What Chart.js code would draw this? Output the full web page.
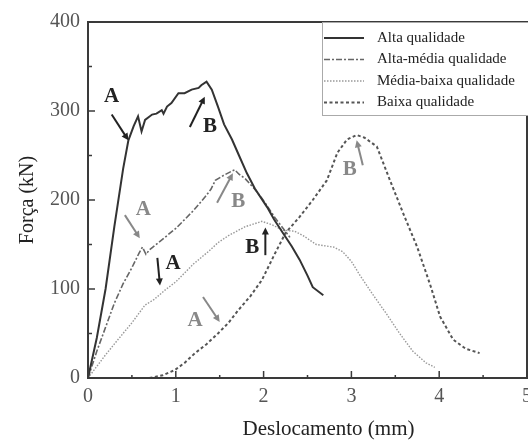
<!DOCTYPE html>
<html>
<head>
<meta charset="utf-8">
<script src="https://cdn.jsdelivr.net/npm/chart.js@4.4.0/dist/chart.umd.min.js"></script>
<style>
  html, body { margin: 0; padding: 0; background: #fff; }
</style>
</head>
<body>
<canvas id="chart" width="528" height="441"></canvas>
<script>
// series names, as in the legend
const seriesNames = ['Alta qualidade', 'Alta-média qualidade', 'Média-baixa qualidade', 'Baixa qualidade'];

// deslocamento (mm) / força (kN)
const altaX = [0, 0.1, 0.2, 0.3, 0.4, 0.46, 0.52, 0.57, 0.61, 0.65, 0.73, 0.78, 0.84, 0.86, 0.9, 0.95, 1.03, 1.1, 1.18, 1.26, 1.29, 1.35, 1.41, 1.48, 1.55, 1.64, 1.72, 1.81, 1.9, 2.04, 2.12, 2.22, 2.32, 2.41, 2.5, 2.56, 2.68];
const altaY = [0, 45, 100, 170, 235, 267, 283, 294, 277, 290, 296, 297, 301, 297, 305, 309, 320, 320, 324, 326, 329, 333, 324, 305, 285, 268, 250, 230, 213, 192, 178, 163, 148, 133, 115, 102, 93];

const altaMediaX = [0, 0.1, 0.2, 0.3, 0.4, 0.5, 0.58, 0.62, 0.66, 0.7, 0.8, 0.9, 1.0, 1.1, 1.2, 1.33, 1.4, 1.45, 1.55, 1.67, 1.72, 1.79, 1.9, 1.98, 2.05, 2.13, 2.2, 2.3];
const altaMediaY = [0, 30, 57, 84, 106, 124, 140, 147, 139, 144, 152, 160, 168, 178, 188, 203, 212, 222, 228, 234, 229, 224, 212, 202, 192, 180, 171, 158];

const mediaBaixaX = [0, 0.1, 0.2, 0.34, 0.5, 0.65, 0.75, 0.88, 1.0, 1.1, 1.2, 1.37, 1.48, 1.6, 1.79, 1.98, 2.1, 2.22, 2.35, 2.45, 2.6, 2.8, 2.9, 3.0, 3.1, 3.25, 3.4, 3.55, 3.7, 3.85, 3.95];
const mediaBaixaY = [0, 13, 26, 43, 62, 82, 88, 99, 108, 118, 128, 142, 152, 160, 170, 176, 172, 166, 165, 160, 150, 147, 142, 131, 115, 93, 72, 50, 30, 17, 12];

const baixaX = [0.7, 0.85, 0.99, 1.1, 1.22, 1.35, 1.48, 1.6, 1.71, 1.85, 1.98, 2.13, 2.25, 2.41, 2.56, 2.72, 2.84, 2.95, 3.06, 3.15, 3.29, 3.44, 3.59, 3.75, 3.9, 4.01, 4.16, 4.3, 4.46];
const baixaY = [0, 3, 9, 17, 28, 38, 50, 62, 76, 92, 110, 140, 163, 181, 200, 222, 253, 268, 273, 270, 260, 222, 185, 147, 104, 69, 43, 33, 28];

const xTicks = [0, 1, 2, 3, 4, 5];
const yTicks = [0, 100, 200, 300, 400];

// A / B markers: letter position and arrow (tail -> head), in data units
const marks = [
  { t: 'A', c: '#222', x: 0.27, y: 316, ax: [0.27, 0.46], ay: [296, 267] },
  { t: 'B', c: '#222', x: 1.39, y: 282, ax: [1.16, 1.33], ay: [282, 316] },
  { t: 'A', c: '#888', x: 0.63, y: 189, ax: [0.42, 0.59], ay: [183, 157] },
  { t: 'B', c: '#888', x: 1.71, y: 198, ax: [1.47, 1.65], ay: [197, 230] },
  { t: 'A', c: '#222', x: 0.97, y: 129, ax: [0.79, 0.82], ay: [135, 104] },
  { t: 'B', c: '#222', x: 1.87, y: 146, ax: [2.02, 2.02], ay: [138, 169] },
  { t: 'A', c: '#888', x: 1.22, y: 65, ax: [1.31, 1.5], ay: [91, 63] },
  { t: 'B', c: '#888', x: 2.98, y: 234, ax: [3.13, 3.06], ay: [239, 267] }
];

const serif = '"Liberation Serif", "DejaVu Serif", serif';

const toPoints = (xs, ys) => xs.map((x, i) => ({ x: x, y: ys[i] }));

const styles = [
  { color: '#333', width: 2, dash: [] },
  { color: '#666', width: 1.6, dash: [6, 2, 2, 2] },
  { color: '#999', width: 1.4, dash: [1.5, 1.5] },
  { color: '#555', width: 2, dash: [3, 2.5] }
];
const series = [[altaX, altaY], [altaMediaX, altaMediaY], [mediaBaixaX, mediaBaixaY], [baixaX, baixaY]];

const datasets = series.map((s, i) => ({
  label: seriesNames[i],
  data: toPoints(s[0], s[1]),
  borderColor: styles[i].color,
  borderWidth: styles[i].width,
  borderDash: styles[i].dash,
  pointRadius: 0,
  tension: 0,
  fill: false
}));

function arrow(ctx, x1, y1, x2, y2, color) {
  const ang = Math.atan2(y2 - y1, x2 - x1);
  const hl = 7, hw = 3.5;
  ctx.strokeStyle = color;
  ctx.fillStyle = color;
  ctx.lineWidth = 2;
  ctx.beginPath();
  ctx.moveTo(x1, y1);
  ctx.lineTo(x2 - Math.cos(ang) * hl * 0.8, y2 - Math.sin(ang) * hl * 0.8);
  ctx.stroke();
  ctx.beginPath();
  ctx.moveTo(x2, y2);
  ctx.lineTo(x2 - Math.cos(ang) * hl - Math.sin(ang) * hw, y2 - Math.sin(ang) * hl + Math.cos(ang) * hw);
  ctx.lineTo(x2 - Math.cos(ang) * hl + Math.sin(ang) * hw, y2 - Math.sin(ang) * hl - Math.cos(ang) * hw);
  ctx.closePath();
  ctx.fill();
}

const decor = {
  id: 'decor',
  afterDatasetsDraw(chart) {
    const { ctx, chartArea: a, scales: { x, y } } = chart;
    ctx.save();
    ctx.setLineDash([]);

    // frame
    ctx.strokeStyle = '#3a3a3a';
    ctx.lineWidth = 2;
    ctx.strokeRect(a.left, a.top, a.right - a.left, a.bottom - a.top);

    // inward ticks, majors and halves
    ctx.lineWidth = 1.5;
    for (let v = 0; v <= 400; v += 50) {
      const py = y.getPixelForValue(v);
      const len = v % 100 === 0 ? 7 : 4;
      ctx.beginPath(); ctx.moveTo(a.left, py); ctx.lineTo(a.left + len, py); ctx.stroke();
    }
    for (let v = 0; v <= 5; v += 0.5) {
      const px = x.getPixelForValue(v);
      const len = Number.isInteger(v) ? 7 : 3;
      ctx.beginPath(); ctx.moveTo(px, a.bottom); ctx.lineTo(px, a.bottom - len); ctx.stroke();
    }

    // legend box
    const lx = a.right - 205, ly = a.top, lw = 210, lh = 93;
    ctx.fillStyle = '#fff';
    ctx.fillRect(lx, ly + 1, lw, lh - 1);
    ctx.strokeStyle = '#aaa';
    ctx.lineWidth = 1;
    ctx.strokeRect(lx + 0.5, ly + 0.5, lw, lh);
    ctx.font = '15px ' + serif;
    ctx.textBaseline = 'middle';
    ctx.textAlign = 'left';
    chart.data.datasets.forEach((ds, i) => {
      const ry = ly + 16 + i * 21.5;
      ctx.strokeStyle = ds.borderColor;
      ctx.lineWidth = ds.borderWidth;
      ctx.setLineDash(ds.borderDash);
      ctx.beginPath(); ctx.moveTo(lx + 2, ry); ctx.lineTo(lx + 42, ry); ctx.stroke();
      ctx.setLineDash([]);
      ctx.fillStyle = '#222';
      ctx.fillText(ds.label, lx + 55, ry);
    });

    // A / B markers
    ctx.font = 'bold 21px ' + serif;
    ctx.textAlign = 'center';
    marks.forEach(m => {
      ctx.fillStyle = m.c;
      ctx.fillText(m.t, x.getPixelForValue(m.x), y.getPixelForValue(m.y));
      arrow(ctx, x.getPixelForValue(m.ax[0]), y.getPixelForValue(m.ay[0]),
        x.getPixelForValue(m.ax[1]), y.getPixelForValue(m.ay[1]), m.c);
    });

    // x axis title
    ctx.fillStyle = '#222';
    ctx.font = '21px ' + serif;
    ctx.fillText('Deslocamento (mm)', (a.left + a.right) / 2 + 21, 429);
    ctx.restore();
  }
};

new Chart(document.getElementById('chart'), {
  type: 'line',
  data: { datasets: datasets },
  options: {
    responsive: false,
    animation: false,
    devicePixelRatio: 1,
    layout: { padding: { top: 22, right: 1, left: 0, bottom: 0 } },
    plugins: { legend: { display: false }, tooltip: { enabled: false } },
    scales: {
      x: {
        type: 'linear', min: 0, max: 5,
        grid: { display: false, drawTicks: false },
        border: { display: false },
        ticks: { color: '#555', font: { family: serif, size: 20 }, padding: 7, maxRotation: 0, autoSkip: false },
        afterBuildTicks: s => { s.ticks = xTicks.map(v => ({ value: v })); },
        afterFit: s => { s.height = 63; s.paddingLeft = 0; s.paddingRight = 0; }
      },
      y: {
        type: 'linear', min: 0, max: 400,
        grid: { display: false, drawTicks: false },
        border: { display: false },
        ticks: { color: '#555', font: { family: serif, size: 20 }, padding: 8 },
        afterBuildTicks: s => { s.ticks = yTicks.map(v => ({ value: v })); },
        title: { display: true, text: 'Força (kN)', color: '#222', font: { family: serif, size: 20 }, padding: { top: 16, bottom: 0 } },
        afterFit: s => { s.width = 88; s.paddingTop = 0; s.paddingBottom = 0; }
      }
    }
  },
  plugins: [decor]
});
</script>
</body>
</html>
